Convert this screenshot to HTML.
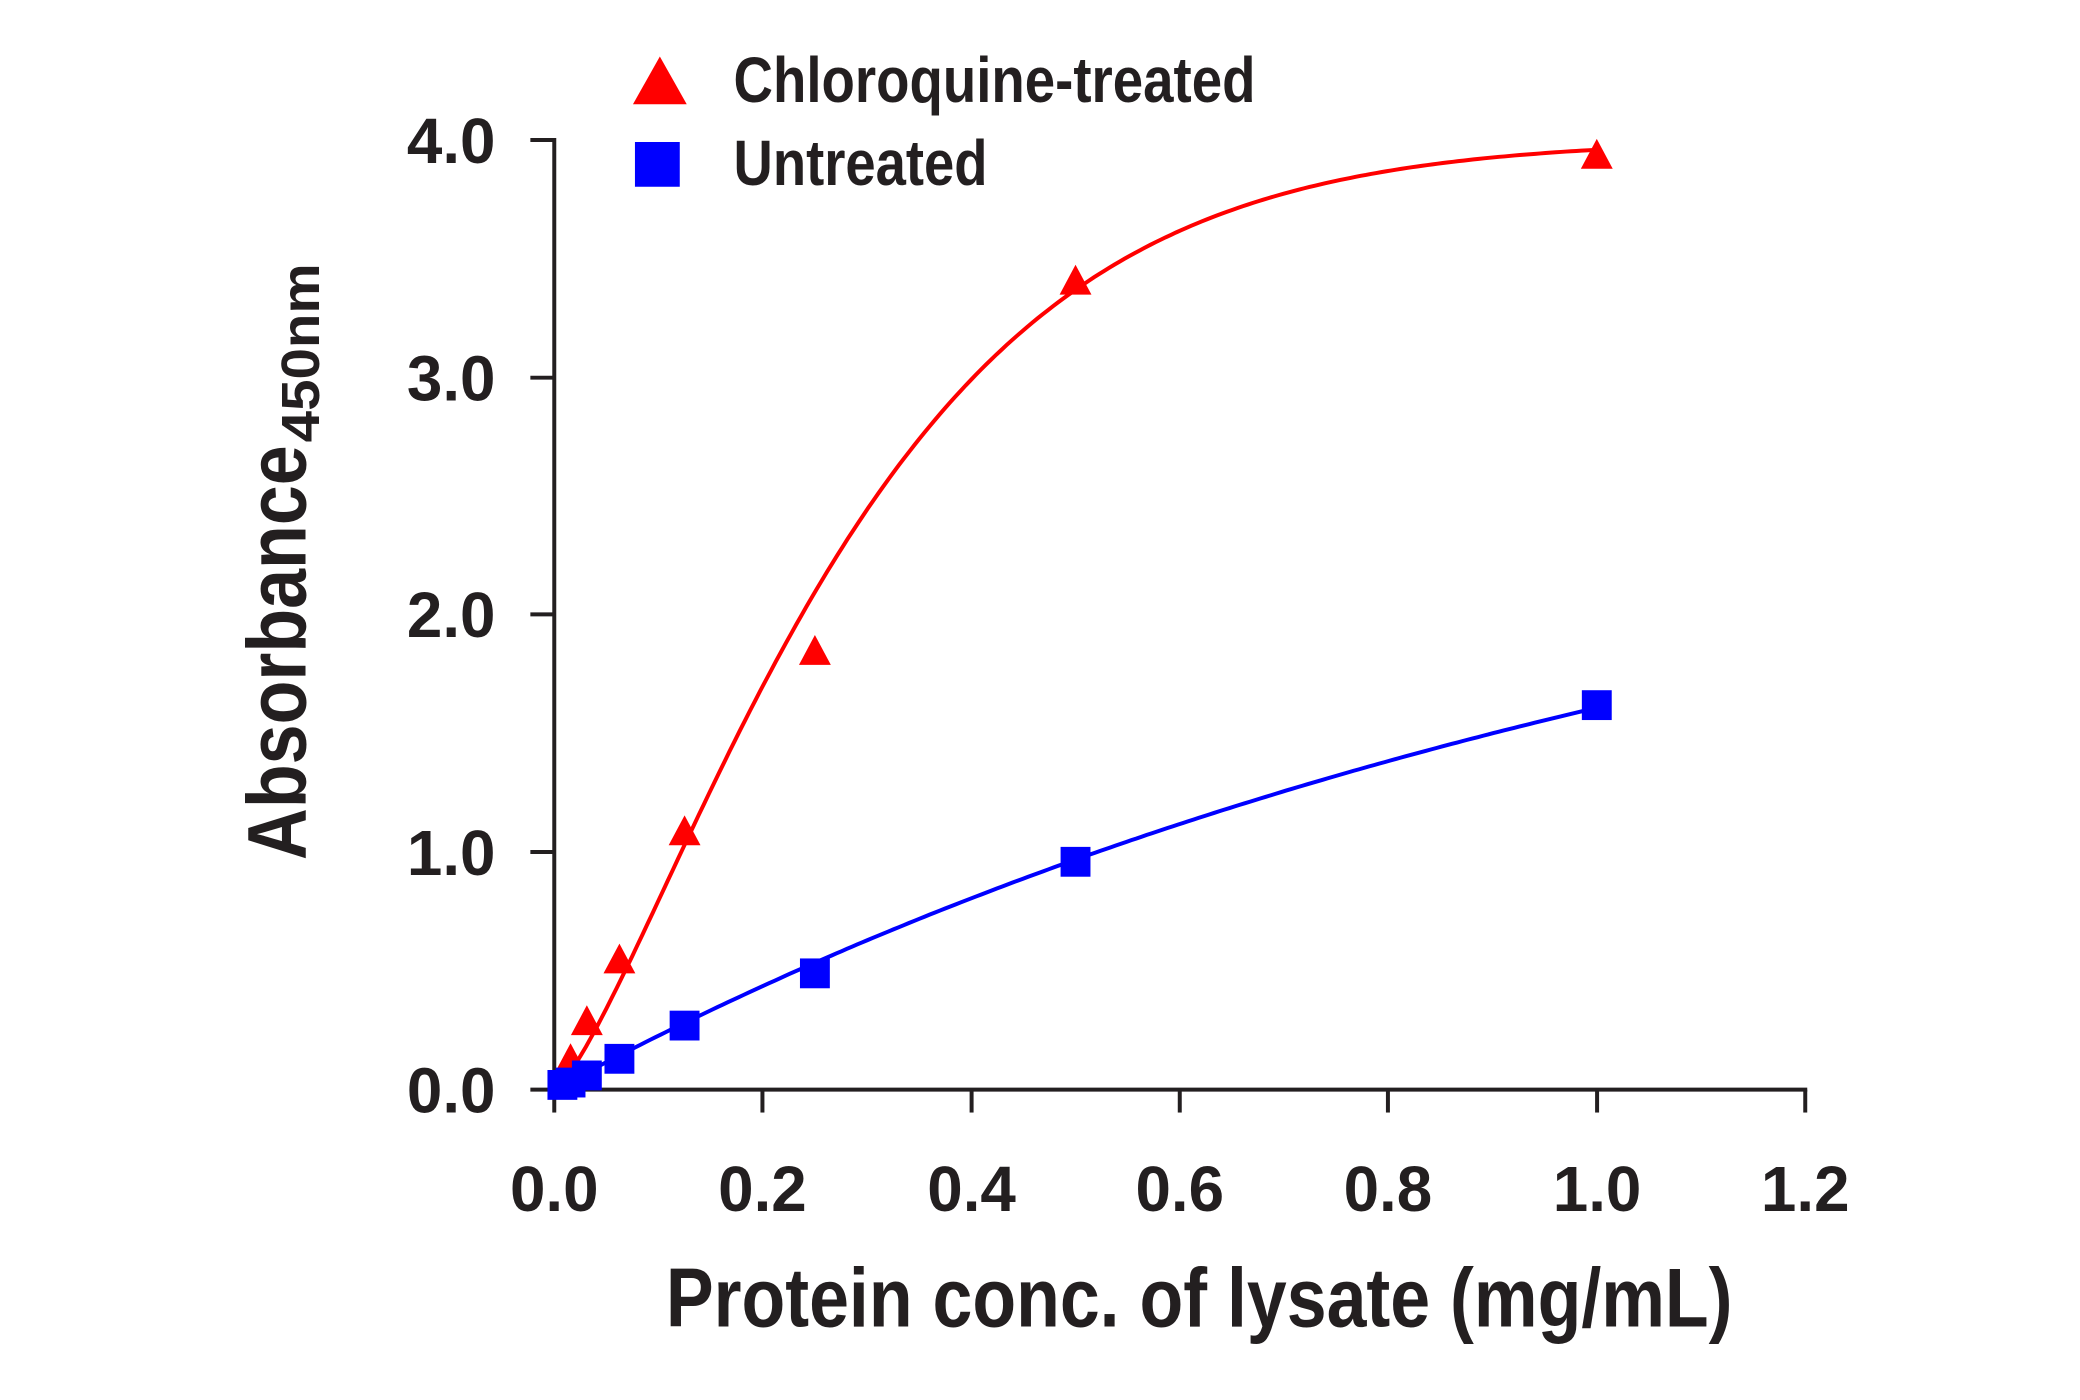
<!DOCTYPE html>
<html><head><meta charset="utf-8"><style>
html,body{margin:0;padding:0;background:#fff;}
svg{display:block;}
text{font-family:"Liberation Sans Narrow","Liberation Sans",sans-serif;fill:#231f20;}
</style></head><body>
<svg id="s" width="2080" height="1400" viewBox="0 0 2080 1400" xmlns="http://www.w3.org/2000/svg">
<g transform="matrix(0.996,0,0,0.9944,-0.5,0.8)">
<g stroke="#231f20" stroke-width="4" fill="none">
<line x1="557" y1="138" x2="557" y2="1097"/>
<line x1="555" y1="1095" x2="1815" y2="1095"/>
<line x1="533" y1="140" x2="557" y2="140"/>
<line x1="533" y1="379" x2="557" y2="379"/>
<line x1="533" y1="617" x2="557" y2="617"/>
<line x1="533" y1="856" x2="557" y2="856"/>
<line x1="533" y1="1095" x2="557" y2="1095"/>
<line x1="557" y1="1095" x2="557" y2="1118"/>
<line x1="766" y1="1095" x2="766" y2="1118"/>
<line x1="976" y1="1095" x2="976" y2="1118"/>
<line x1="1185" y1="1095" x2="1185" y2="1118"/>
<line x1="1394" y1="1095" x2="1394" y2="1118"/>
<line x1="1604" y1="1095" x2="1604" y2="1118"/>
<line x1="1813" y1="1095" x2="1813" y2="1118"/>
</g>
<g font-size="64" font-weight="bold" text-anchor="end">
<text x="498" y="163">4.0</text>
<text x="498" y="402">3.0</text>
<text x="498" y="640">2.0</text>
<text x="498" y="879">1.0</text>
<text x="498" y="1118">0.0</text>
</g>
<g font-size="64" font-weight="bold" text-anchor="middle">
<text x="557" y="1217">0.0</text>
<text x="766" y="1217">0.2</text>
<text x="976" y="1217">0.4</text>
<text x="1185" y="1217">0.6</text>
<text x="1394" y="1217">0.8</text>
<text x="1604" y="1217">1.0</text>
<text x="1813" y="1217">1.2</text>
</g>
<text x="669" y="1333" font-size="84" font-weight="bold" textLength="1071" lengthAdjust="spacingAndGlyphs">Protein conc. of lysate (mg/mL)</text>
<g transform="translate(307,864) rotate(-90)">
<text x="0" y="0" font-size="84" font-weight="bold" textLength="417" lengthAdjust="spacingAndGlyphs">Absorbance</text>
<text x="420" y="14" font-size="54" font-weight="bold" textLength="180" lengthAdjust="spacingAndGlyphs">450nm</text>
</g>
<polygon points="663,56 636,104 690,104" fill="#ff0000"/>
<rect x="638" y="142" width="45" height="45" fill="#0000ff"/>
<text x="737" y="102" font-size="64" font-weight="bold" textLength="524" lengthAdjust="spacingAndGlyphs">Chloroquine-treated</text>
<text x="737" y="185" font-size="64" font-weight="bold" textLength="255" lengthAdjust="spacingAndGlyphs">Untreated</text>
<path id="rc" fill="none" stroke="#ff0000" stroke-width="4"/>
<path id="bc" fill="none" stroke="#0000ff" stroke-width="4"/>
<g id="pts"></g>
</g>
</svg>
<script>
var X=function(x){return 557+x*1046.7},Y=function(y){return 1095-y*238.7};
var r="",b="";
for(var i=0;i<=200;i++){var x=0.0156+i*(1-0.0156)/200;
var y=4*(1-Math.exp(-Math.pow(x/0.3135,1.316)));
r+=(i?"L":"M")+X(x).toFixed(1)+","+Y(y).toFixed(1);}
for(var i=0;i<=200;i++){var x=0.0078+i*(1-0.0078)/200;
var y=2.85*(1-Math.exp(-x/1.203));
b+=(i?"L":"M")+X(x).toFixed(1)+","+Y(y).toFixed(1);}
document.getElementById("rc").setAttribute("d",r);
document.getElementById("bc").setAttribute("d",b);
var g=document.getElementById("pts"),h="";
[[0.0156,0.12],[0.03125,0.28],[0.0625,0.54],[0.125,1.08],[0.25,1.84],[0.5,3.40],[1.0,3.93]].forEach(function(p){
var cx=X(p[0]),cy=Y(p[1]);h+='<polygon fill="#ff0000" points="'+cx+','+(cy-18)+' '+(cx-16)+','+(cy+12)+' '+(cx+16)+','+(cy+12)+'"/>';});
[[0.0078,0.02],[0.0156,0.03],[0.03125,0.06],[0.0625,0.13],[0.125,0.27],[0.25,0.49],[0.5,0.96],[1.0,1.62]].forEach(function(p){
var cx=X(p[0]),cy=Y(p[1]);h+='<rect fill="#0000ff" x="'+(cx-15)+'" y="'+(cy-15)+'" width="30" height="30"/>';});
g.innerHTML=h;
</script>
</body></html>
